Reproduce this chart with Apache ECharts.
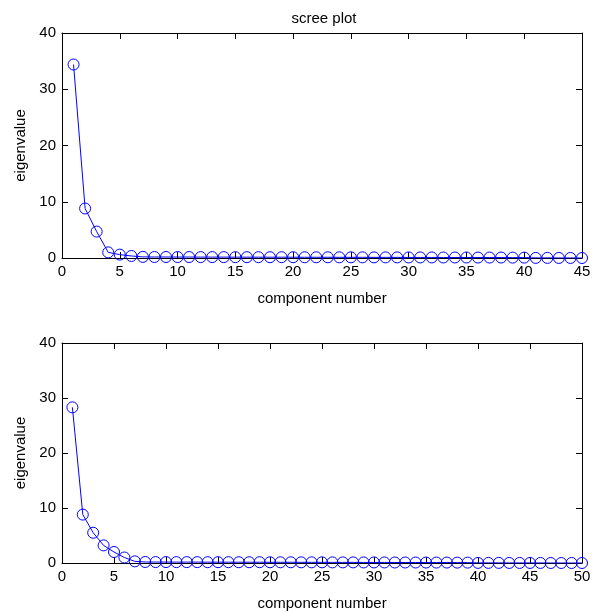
<!DOCTYPE html>
<html>
<head>
<meta charset="utf-8">
<script src="https://cdn.jsdelivr.net/npm/echarts@6/dist/echarts.min.js"></script>
<style>html,body{margin:0;padding:0;background:#fff}#c{width:595px;height:612px}</style>
</head>
<body>
<div id="c"></div>
<script>
const titleText = "scree plot";
const xName = "component number";
const yName = "eigenvalue";
const topValues = [34.4, 8.8, 4.7, 1.0, 0.6, 0.36, 0.2, 0.18, 0.18, 0.17, 0.17, 0.16, 0.16, 0.16, 0.15, 0.15, 0.15, 0.14, 0.14, 0.14, 0.13, 0.13, 0.13, 0.12, 0.12, 0.12, 0.11, 0.11, 0.11, 0.1, 0.1, 0.1, 0.09, 0.09, 0.09, 0.08, 0.08, 0.08, 0.07, 0.07, 0.02, 0.02, 0.01, 0.01, 0.0];
const bottomValues = [28.3, 8.8, 5.5, 3.2, 2.0, 1.0, 0.3, 0.18, 0.17, 0.17, 0.16, 0.16, 0.16, 0.15, 0.15, 0.15, 0.14, 0.14, 0.14, 0.13, 0.13, 0.13, 0.12, 0.12, 0.12, 0.11, 0.11, 0.11, 0.1, 0.1, 0.1, 0.09, 0.09, 0.09, 0.08, 0.08, 0.08, 0.07, 0.07, 0.02, 0.02, 0.02, 0.01, 0.01, 0.01, 0.01, 0.0, 0.0, 0.0, 0.0];
const topXMax = 45, bottomXMax = 50, yMax = 40;

const FONT = 'Liberation Sans, Arial, sans-serif';
const FS = 15;
const pts = v => v.map((y, i) => [i + 1, y]);

function xAxes(gi, max) {
  return [
    { gridIndex: gi, type: 'value', min: 0, max: max, interval: 5, position: 'bottom',
      name: xName, nameLocation: 'middle', nameGap: 33,
      nameTextStyle: { fontFamily: FONT, fontSize: FS, color: '#000' },
      axisLine: { onZero: false, lineStyle: { color: '#000', width: 1 } },
      axisTick: { inside: true, length: 6, lineStyle: { color: '#000' } },
      axisLabel: { fontFamily: FONT, fontSize: FS, color: '#000', margin: 6 },
      splitLine: { show: false } },
    { gridIndex: gi, type: 'value', min: 0, max: max, interval: 5, position: 'top',
      axisLine: { onZero: false, lineStyle: { color: '#000', width: 1 } },
      axisTick: { inside: true, length: 6, lineStyle: { color: '#000' } },
      axisLabel: { show: false }, splitLine: { show: false } }
  ];
}
function yAxes(gi) {
  return [
    { gridIndex: gi, type: 'value', min: 0, max: yMax, interval: 10, position: 'left',
      name: yName, nameLocation: 'middle', nameGap: 32, nameRotate: 90,
      nameTextStyle: { fontFamily: FONT, fontSize: FS, color: '#000' },
      axisLine: { show: true, onZero: false, lineStyle: { color: '#000', width: 1 } },
      axisTick: { show: true, inside: true, length: 6, lineStyle: { color: '#000' } },
      axisLabel: { fontFamily: FONT, fontSize: FS, color: '#000', margin: 6 },
      splitLine: { show: false } },
    { gridIndex: gi, type: 'value', min: 0, max: yMax, interval: 10, position: 'right',
      axisLine: { show: true, onZero: false, lineStyle: { color: '#000', width: 1 } },
      axisTick: { show: true, inside: true, length: 6, lineStyle: { color: '#000' } },
      axisLabel: { show: false }, splitLine: { show: false } }
  ];
}
function series(xi, yi, vals) {
  return { type: 'line', xAxisIndex: xi, yAxisIndex: yi, data: pts(vals),
    symbol: 'circle', symbolSize: 11, showAllSymbol: true,
    lineStyle: { color: '#0000ff', width: 1 },
    itemStyle: { color: 'rgba(0,0,0,0)', borderColor: '#0000ff', borderWidth: 1 },
    emphasis: { disabled: true }, animation: false, z: 3 };
}

const chart = echarts.init(document.getElementById('c'), null, { renderer: 'canvas' });
chart.setOption({
  animation: false,
  backgroundColor: '#fff',
  title: { text: titleText, left: 319, top: 6, textAlign: 'center',
    textStyle: { fontFamily: FONT, fontSize: FS, fontWeight: 'normal', color: '#000' } },
  grid: [
    { left: 62, top: 33, width: 520, height: 225 },
    { left: 62, top: 343, width: 520, height: 224 }
  ],
  xAxis: [...xAxes(0, topXMax), ...xAxes(1, bottomXMax)],
  yAxis: [...yAxes(0), ...yAxes(1)],
  series: [series(0, 0, topValues), series(2, 2, bottomValues)]
});
</script>
</body>
</html>
